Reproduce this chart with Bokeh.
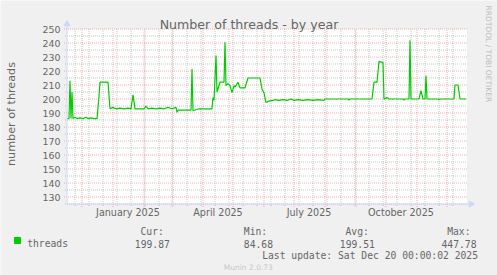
import math
import pandas as pd
from bokeh.plotting import figure
from bokeh.models import Range1d, Label
from bokeh.embed import file_html
from bokeh.resources import INLINE

# ---------------- data ----------------
dates = [
    "2024-11-16", "2024-11-18", "2024-11-19", "2024-11-20", "2024-11-21", "2024-11-22",
    "2024-11-24", "2024-11-26", "2024-11-29", "2024-12-02", "2024-12-05", "2024-12-07",
    "2024-12-10", "2024-12-13", "2024-12-16", "2024-12-18", "2024-12-19", "2024-12-27",
    "2024-12-29", "2025-01-01", "2025-01-04", "2025-01-08", "2025-01-12", "2025-01-16",
    "2025-01-19", "2025-01-21", "2025-01-23", "2025-01-28", "2025-02-01", "2025-02-03",
    "2025-02-05", "2025-02-09", "2025-02-13", "2025-02-17", "2025-02-21", "2025-02-25",
    "2025-03-01", "2025-03-05", "2025-03-06", "2025-03-07", "2025-03-20", "2025-03-21",
    "2025-03-22", "2025-03-28", "2025-04-10", "2025-04-11", "2025-04-12", "2025-04-14",
    "2025-04-15", "2025-04-18", "2025-04-22", "2025-04-23", "2025-04-24", "2025-04-26",
    "2025-04-28", "2025-04-30", "2025-05-02", "2025-05-03", "2025-05-06", "2025-05-08",
    "2025-05-13", "2025-05-16", "2025-05-28", "2025-05-30", "2025-06-01", "2025-06-03",
    "2025-06-06", "2025-06-10", "2025-06-12", "2025-06-16", "2025-06-20", "2025-06-24",
    "2025-06-28", "2025-07-01", "2025-07-05", "2025-07-10", "2025-07-15", "2025-07-20",
    "2025-07-25", "2025-07-31", "2025-08-01", "2025-08-24", "2025-08-25", "2025-08-26",
    "2025-09-17", "2025-09-19", "2025-09-22", "2025-09-24", "2025-09-28", "2025-09-29",
    "2025-10-02", "2025-10-04", "2025-10-18", "2025-10-19", "2025-10-20", "2025-10-24",
    "2025-10-25", "2025-10-26", "2025-11-03", "2025-11-05", "2025-11-07", "2025-11-09",
    "2025-11-10", "2025-11-11", "2025-11-22", "2025-11-23", "2025-11-24", "2025-12-08",
    "2025-12-09", "2025-12-12", "2025-12-14", "2025-12-20",
]
threads = [
    186, 186, 213, 186, 205, 186,
    187, 186, 186.5, 186, 187, 186,
    186.5, 186, 186, 202, 212, 212,
    193, 194, 193, 193.5, 193, 193.5,
    193, 203, 193, 193, 193, 195,
    193, 193.5, 193, 193.5, 193, 194,
    193, 194, 190.5, 192, 192, 221.5,
    191.6, 193, 193, 201, 199, 231,
    205, 212, 212, 240.5, 209.5, 211,
    209.5, 204.5, 209.5, 208.5, 212, 208,
    208, 215, 215, 207, 204.5, 197.5,
    198.5, 199, 199.5, 199, 199.5, 199,
    200, 199, 199.5, 199, 199.5, 199,
    199.5, 199, 200, 200, 199.3, 200,
    200, 212, 212, 227, 226, 200,
    201, 200, 200, 199.3, 200, 200,
    242, 200, 200, 206, 200, 200,
    216.5, 200, 200, 199.5, 200, 200,
    210, 210, 200, 200,
]
y_ticks = [130, 140, 150, 160, 170, 180, 190, 200, 210, 220, 230, 240, 250]
y_minor = [125, 135, 145, 155, 165, 175, 185, 195, 205, 215, 225, 235, 245]
x_label_dates = ["2025-01-16", "2025-04-16", "2025-07-16", "2025-10-16"]
x_labels = ["January 2025", "April 2025", "July 2025", "October 2025"]
legend_name = "threads"
stat_heads = ["Cur:", "Min:", "Avg:", "Max:"]
stat_vals = ["199.87", "84.68", "199.51", "447.78"]
title_text = "Number of threads - by year"
ylabel_text = "number of threads"
last_update = "Last update: Sat Dec 20 00:00:02 2025"
footer = "Munin 2.0.73"
side_text = "RRDTOOL / TOBI OETIKER"

# ---------------- geometry ----------------
W, H = 497, 275
FL, FT = 66.5, 28.5          # canvas px of plot-area left / top
PX_DAY, PX_UNIT = 1.0, 1.4   # px per day, px per thread
t0 = pd.Timestamp("2024-11-16 00:00")
t1 = pd.Timestamp("2025-12-21 00:00")
YMIN, YMAX = 125, 250
DAY = pd.Timedelta(days=1)

x_start = t0 - DAY * (FL / PX_DAY)
x_end = t0 + DAY * ((W - FL) / PX_DAY)
y_top = YMAX + FT / PX_UNIT
y_bot = YMAX - (H - FT) / PX_UNIT


def dx(px):
    return DAY * (px / PX_DAY)


def dy(px):
    return px / PX_UNIT


p = figure(width=W, height=H, output_backend="svg", toolbar_location=None,
           x_axis_type="datetime", x_axis_location=None, y_axis_location=None,
           x_range=Range1d(x_start, x_end), y_range=Range1d(y_bot, y_top),
           min_border=0, min_border_left=0, min_border_right=0,
           min_border_top=0, min_border_bottom=0,
           background_fill_color="#F0F0F0", border_fill_color="#F0F0F0",
           outline_line_color=None)
p.grid.visible = False

TXT = "#666666"
AX = "#CFD6F8"
MGRID = "#de4f4f"
GRID = "#8f8f8f"
SANS = "DejaVu Sans"
MONO = "DejaVu Sans Mono"

month_starts = list(pd.date_range("2024-12-01", "2025-12-01", freq="MS"))
biweekly = list(pd.date_range("2024-11-24", "2025-12-20", freq="14D"))
lab_x = list(pd.to_datetime(x_label_dates))

# plot canvas
p.quad(left=[t0], right=[t1], bottom=[YMIN], top=[YMAX],
       fill_color="white", line_color=None)

# minor grid
p.segment(x0=biweekly, x1=biweekly, y0=[YMIN - dy(2)] * len(biweekly),
          y1=[YMAX] * len(biweekly), line_color=GRID, line_alpha=0.5,
          line_width=1, line_dash="1 1")
p.segment(x0=[t0 - dx(2)] * len(y_minor), x1=[t1] * len(y_minor),
          y0=y_minor, y1=y_minor, line_color=GRID, line_alpha=0.5,
          line_width=1, line_dash="1 1")
# major grid
p.segment(x0=month_starts, x1=month_starts,
          y0=[YMIN - dy(3)] * len(month_starts), y1=[YMAX] * len(month_starts),
          line_color=MGRID, line_alpha=0.45, line_width=1, line_dash="1 1")
p.segment(x0=[t0 - dx(3)] * len(y_ticks), x1=[t1] * len(y_ticks),
          y0=y_ticks, y1=y_ticks, line_color=MGRID, line_alpha=0.45,
          line_width=1, line_dash="1 1")

# data
p.line(pd.to_datetime(dates), threads, line_color="#00CC00", line_width=1.2)

# axes + arrows
p.segment(x0=[t0, t0], x1=[t0, t1 + dx(2)], y0=[YMIN, YMIN],
          y1=[YMAX + dy(4), YMIN], line_color=AX, line_width=1)
p.scatter(x=[t0], y=[YMAX + dy(5)], marker="triangle", size=6,
          fill_color=AX, line_color=AX)
p.scatter(x=[t1 + dx(4)], y=[YMIN], marker="triangle", size=6,
          angle=-math.pi / 2, fill_color=AX, line_color=AX)

# tick labels
p.text(x=[t0] * len(y_ticks), y=y_ticks, text=[str(v) for v in y_ticks],
       x_offset=-6.5, text_align="right", text_baseline="middle",
       text_font={"value": SANS}, text_font_size="9.4px", text_color=TXT)
p.text(x=lab_x, y=[YMIN] * len(lab_x), text=x_labels, y_offset=3,
       text_align="center", text_baseline="top",
       text_font={"value": SANS}, text_font_size="9.6px", text_color=TXT)

# legend swatch
p.scatter(x=[t0 + dx(17 - FL)], y=[YMAX - dy(240 - FT)], marker="square",
          size=6, fill_color="#00CC00", line_color="#00CC00")


def lbl(text, x, y, size, font=SANS, color=TXT, align="left",
        baseline="alphabetic", angle=0.0):
    p.add_layout(Label(x=x, y=H - y, x_units="screen", y_units="screen",
                       text=text, text_font=font, text_font_size=size,
                       text_color=color, text_align=align,
                       text_baseline=baseline, angle=angle))


lbl(title_text, 248.5, 24.3, "12.6px", align="center")
lbl(ylabel_text, 11, 113.5, "11.2px", align="center", baseline="middle",
    angle=math.pi / 2)
lbl(legend_name, 26.7, 243.3, "9.7px", font=MONO)
head_x = [140, 243.3, 345, 446.7]
val_x = [134.3, 243.3, 339.3, 441]
for hx, ht in zip(head_x, stat_heads):
    lbl(ht, hx, 230.7, "9.7px", font=MONO)
for vx, vt in zip(val_x, stat_vals):
    lbl(vt, vx, 243.3, "9.7px", font=MONO)
lbl(last_update, 261.7, 255, "9.7px", font=MONO)
lbl(footer, 223.3, 266.7, "7.5px", color="#c8c8c8")
lbl(side_text, 488, 5, "7.5px", color="#bdbdbd", baseline="middle",
    angle=-math.pi / 2)

open("out.html", "w").write(file_html(p, INLINE))
